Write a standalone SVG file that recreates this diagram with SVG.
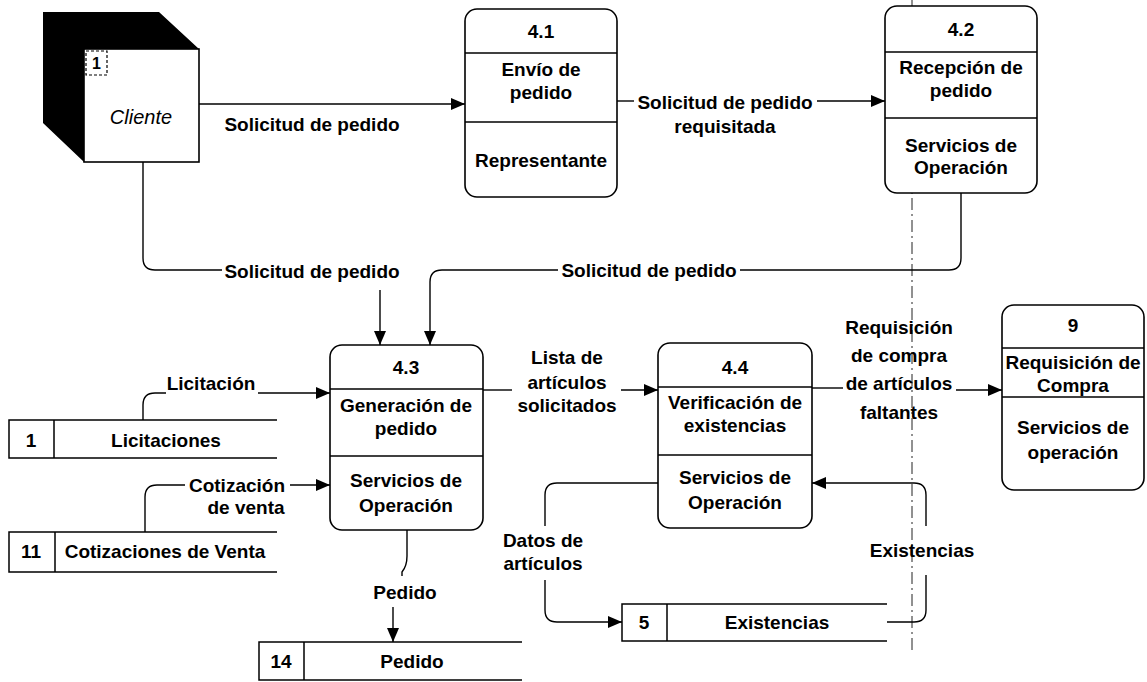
<svg xmlns="http://www.w3.org/2000/svg" width="1147" height="682" viewBox="0 0 1147 682">
<defs>
<marker id="arr" markerWidth="14" markerHeight="12" refX="14" refY="6" orient="auto" markerUnits="userSpaceOnUse">
<path d="M0,0 L14,6 L0,12 z" fill="#000"/>
</marker>
<style>
.box{fill:#fff;stroke:#000;stroke-width:1.6}
.ln{fill:none;stroke:#000;stroke-width:1.5}
.cn{fill:none;stroke:#000;stroke-width:1.4}
.ca{fill:none;stroke:#000;stroke-width:1.4;marker-end:url(#arr)}
text{font-family:"Liberation Sans",Arial,Helvetica,sans-serif;font-size:19px;font-weight:bold;fill:#000;text-anchor:middle;dominant-baseline:central}
.it{font-style:italic;font-weight:normal;font-size:20px}
.num{font-size:16px}
</style>
</defs>
<rect width="1147" height="682" fill="#fff"/>
<line x1="912" y1="0" x2="912" y2="652" stroke="#222" stroke-width="1" stroke-dasharray="12 4 2 4"/>

<g id="cliente">
<polygon points="43,12 159,12 199,49 84,49 84,162 43,123" fill="#000"/>
<rect x="84" y="49" width="115" height="113" class="box"/>
<rect x="86" y="51" width="21" height="24" fill="none" stroke="#000" stroke-width="1.2" stroke-dasharray="3 2"/>
<text x="96.5" y="63" class="num">1</text>
<text x="141" y="117" class="it">Cliente</text>
</g>

<g id="p41">
<rect x="465" y="9" width="152" height="188" rx="12" class="box"/>
<line x1="465" y1="53" x2="617" y2="53" class="ln"/>
<line x1="465" y1="122" x2="617" y2="122" class="ln"/>
<text x="541" y="31">4.1</text>
<text x="541" y="69">Envío de</text>
<text x="541" y="92">pedido</text>
<text x="541" y="160">Representante</text>
</g>

<g id="p42">
<rect x="885" y="6" width="152" height="187" rx="12" class="box"/>
<line x1="885" y1="52" x2="1037" y2="52" class="ln"/>
<line x1="885" y1="118" x2="1037" y2="118" class="ln"/>
<text x="961" y="29">4.2</text>
<text x="961" y="67">Recepción de</text>
<text x="961" y="90">pedido</text>
<text x="961" y="145">Servicios de</text>
<text x="961" y="167">Operación</text>
</g>

<g id="p43">
<rect x="330" y="345" width="153" height="185" rx="12" class="box"/>
<line x1="330" y1="389" x2="483" y2="389" class="ln"/>
<line x1="330" y1="456" x2="483" y2="456" class="ln"/>
<text x="406" y="367">4.3</text>
<text x="406" y="405">Generación de</text>
<text x="406" y="428">pedido</text>
<text x="406" y="480">Servicios de</text>
<text x="406" y="505">Operación</text>
</g>

<g id="p44">
<rect x="658" y="343" width="154" height="185" rx="12" class="box"/>
<line x1="658" y1="387" x2="812" y2="387" class="ln"/>
<line x1="658" y1="455" x2="812" y2="455" class="ln"/>
<text x="735" y="367">4.4</text>
<text x="735" y="402">Verificación de</text>
<text x="735" y="425">existencias</text>
<text x="735" y="477">Servicios de</text>
<text x="735" y="502">Operación</text>
</g>

<g id="p9">
<rect x="1002" y="305" width="142" height="185" rx="12" class="box"/>
<line x1="1002" y1="348" x2="1144" y2="348" class="ln"/>
<line x1="1002" y1="397" x2="1144" y2="397" class="ln"/>
<text x="1073" y="325">9</text>
<text x="1073" y="362">Requisición de</text>
<text x="1073" y="385">Compra</text>
<text x="1073" y="427">Servicios de</text>
<text x="1073" y="452">operación</text>
</g>

<g id="d1">
<path d="M277,420 H9 V458 H277 M54,420 V458" class="ln"/>
<text x="31" y="440">1</text>
<text x="166" y="440">Licitaciones</text>
</g>

<g id="d11">
<path d="M277,532 H9 V572 H277 M55,532 V572" class="ln"/>
<text x="31" y="551">11</text>
<text x="165" y="551">Cotizaciones de Venta</text>
</g>

<g id="d14">
<path d="M522,642 H259 V680 H522 M304,642 V680" class="ln"/>
<text x="281" y="661">14</text>
<text x="412" y="661">Pedido</text>
</g>

<g id="d5">
<path d="M887,604 H622 V641 H887 M667,604 V641" class="ln"/>
<text x="644" y="622">5</text>
<text x="777" y="622">Existencias</text>
</g>

<g id="connectors">
<path d="M199,104 H465" class="ca"/>
<text x="312" y="124">Solicitud de pedido</text>

<path d="M617,101 H634" class="cn"/>
<path d="M817,101 H885" class="ca"/>
<text x="725" y="102">Solicitud de pedido</text>
<text x="725" y="126">requisitada</text>

<path d="M143,162 V258 Q143,270 155,270 H222" class="cn"/>
<text x="312" y="271">Solicitud de pedido</text>
<path d="M380,290 V345" class="ca"/>

<path d="M961,193 V258 Q961,270 949,270 H740" class="cn"/>
<text x="649" y="270">Solicitud de pedido</text>
<path d="M558,270 H442 Q430,270 430,282 V345" class="ca"/>

<path d="M143,420 V405 Q143,393 155,393 H166" class="cn"/>
<text x="211" y="383">Licitación</text>
<path d="M258,393 H330" class="ca"/>

<path d="M145,532 V497 Q145,485 157,485 H185" class="cn"/>
<text x="237" y="485">Cotización</text>
<path d="M290,485 H330" class="ca"/>
<text x="246" y="507">de venta</text>

<path d="M483,390 H512" class="cn"/>
<text x="567" y="357">Lista de</text>
<text x="567" y="382">artículos</text>
<text x="567" y="405">solicitados</text>
<path d="M621,390 H658" class="ca"/>

<path d="M812,388 H843" class="cn"/>
<text x="899" y="327">Requisición</text>
<text x="899" y="355">de compra</text>
<text x="899" y="383">de artículos</text>
<text x="899" y="412">faltantes</text>
<path d="M956,390 H1002" class="ca"/>

<path d="M658,483 H557 Q545,483 545,495 V526" class="cn"/>
<text x="543" y="540">Datos de</text>
<text x="543" y="563">artículos</text>
<path d="M545,580 V610 Q545,622 557,622 H622" class="ca"/>

<path d="M887,622 H914 Q926,622 926,610 V575" class="cn"/>
<text x="922" y="550">Existencias</text>
<path d="M926,526 V495 Q926,483 914,483 H812" class="ca"/>

<path d="M407,530 V556 Q407,566 402,572 V576" class="cn"/>
<text x="405" y="592">Pedido</text>
<path d="M393,607 V642" class="ca"/>
</g>
</svg>
